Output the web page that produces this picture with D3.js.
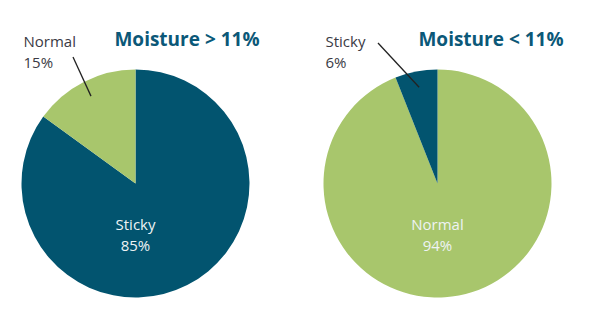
<!DOCTYPE html>
<html>
<head>
<meta charset="UTF-8">
<script src="https://d3js.org/d3.v7.min.js"></script>
<style>
  body { margin: 0; background: #fff; }
  text { font-family: "Open Sans", sans-serif; }
</style>
</head>
<body>
<div id="chart"></div>
<script>
const titles = ["Moisture > 11%", "Moisture < 11%"];
const categories = ["Sticky", "Normal"];
const highMoisture = [85, 15];   // Sticky, Normal
const lowMoisture = [6, 94];     // Sticky, Normal
const insideLabel = ["Sticky", "Normal"];   // big slice labelled inside
const outsideLabel = ["Normal", "Sticky"];  // small slice labelled with leader

const width = 600, height = 319;
const radius = 114;
const color = d3.scaleOrdinal().domain(categories).range(["#02546f", "#a8c66c"]);

const svg = d3.select("#chart").append("svg")
  .attr("width", width).attr("height", height);

// layout per pie: centre, title, outside label & leader start
const pies = [
  { cx: 135.5, cy: 183.5, values: highMoisture, order: ["Sticky", "Normal"], titleX: 187, lineStart: [73, 57] },
  { cx: 437.5, cy: 183.5, values: lowMoisture, order: ["Normal", "Sticky"], titleX: 491, lineStart: [378, 43] }
];

const arc = d3.arc().innerRadius(0).outerRadius(radius);
const leaderArc = d3.arc().innerRadius(radius * 0.86).outerRadius(radius * 0.86);

pies.forEach((p, k) => {
  const data = p.order.map(c => ({ cat: c, value: p.values[categories.indexOf(c)] }));
  const pie = d3.pie().sort(null).value(d => d.value);
  const arcs = pie(data);

  const g = svg.append("g").attr("transform", `translate(${p.cx},${p.cy})`);
  g.selectAll("path").data(arcs).enter().append("path")
    .attr("d", arc)
    .attr("fill", d => color(d.data.cat));

  // inside label
  const inner = arcs.find(a => a.data.cat === insideLabel[k]);
  const t = g.append("text").attr("text-anchor", "middle").attr("fill", "#eef3f4")
    .attr("font-size", 15);
  t.append("tspan").attr("x", 0).attr("y", 46).text(inner.data.cat);
  t.append("tspan").attr("x", 0).attr("y", 67).text(inner.data.value + "%");

  // outside label with leader line
  const outer = arcs.find(a => a.data.cat === outsideLabel[k]);
  const end = leaderArc.centroid(outer);
  svg.append("line")
    .attr("x1", p.lineStart[0]).attr("y1", p.lineStart[1])
    .attr("x2", p.cx + end[0]).attr("y2", p.cy + end[1])
    .attr("stroke", "#222").attr("stroke-width", 1.3);
  const ot = svg.append("text").attr("fill", "#3a3a44").attr("font-size", 15);
  ot.append("tspan").attr("x", p.cx - 112).attr("y", 47).text(outer.data.cat);
  ot.append("tspan").attr("x", p.cx - 112).attr("y", 68).text(outer.data.value + "%");

  // title
  svg.append("text").attr("x", p.titleX).attr("y", 46)
    .attr("text-anchor", "middle")
    .attr("font-size", 19).attr("font-weight", "bold").attr("fill", "#0b5878")
    .text(titles[k]);
});
</script>
</body>
</html>
